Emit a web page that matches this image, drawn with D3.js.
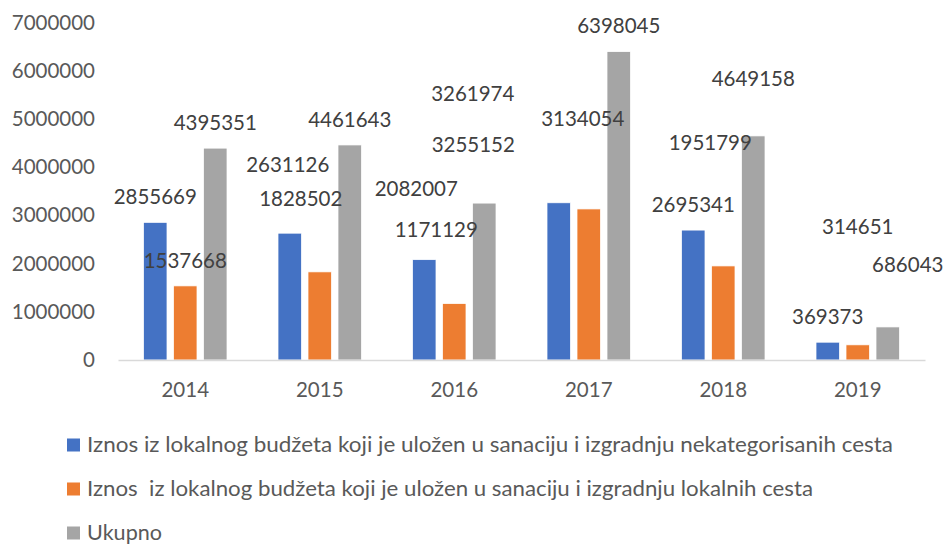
<!DOCTYPE html>
<html>
<head>
<meta charset="utf-8">
<script src="https://cdn.jsdelivr.net/npm/d3@7"></script>
<style>
  html, body { margin: 0; padding: 0; background: #ffffff; }
  svg { display: block; }
  text { font-family: Lato, "Open Sans", sans-serif; }
</style>
</head>
<body>
<svg id="chart" width="946" height="544"></svg>
<script>
// Budget amounts by year
const years = ["2014", "2015", "2016", "2017", "2018", "2019"];
const seriesNames = [
  "Iznos iz lokalnog budžeta koji je uložen u sanaciju i izgradnju nekategorisanih cesta",
  "Iznos  iz lokalnog budžeta koji je uložen u sanaciju i izgradnju lokalnih cesta",
  "Ukupno"
];
const nekategorisane = [2855669, 2631126, 2082007, 3261974, 2695341, 369373];
const lokalne = [1537668, 1828502, 1171129, 3134054, 1951799, 314651];
const ukupno = [4395351, 4461643, 3255152, 6398045, 4649158, 686043];
const yTicks = [0, 1000000, 2000000, 3000000, 4000000, 5000000, 6000000, 7000000];

// Hand-placed data label nudges (px) relative to the default spot above each bar
const labelDx = [
  [0, -2, -8, -86, 0, 0],
  [0, -19, -18, -6, -13, 0],
  [0, 0, -11, 0, 0, 20]
];
const labelDy = [
  [0, -43, -45, -83, 0, 0],
  [0, -48, -48, -65, -98, -93],
  [0, 0, -33, 0, -32, -37]
];

const colors = ["#4472C4", "#ED7D31", "#A5A5A5"];
const values = [nekategorisane, lokalne, ukupno];

const svg = d3.select("#chart");

const x = d3.scaleBand().domain(years).range([118, 925]).padding(0);
const xs = d3.scaleBand().domain([0, 1, 2])
  .range([25.5, x.bandwidth() - 25.5])
  .paddingInner(0.2167).paddingOuter(0);
const y = d3.scaleLinear().domain([0, 7000000]).range([360, 22.6]);

// Y axis tick labels (no axis line, no gridlines)
const yAxis = d3.axisLeft(y).tickValues(yTicks).tickSize(0).tickPadding(0)
  .tickFormat(d3.format("d"));
const gy = svg.append("g").attr("transform", "translate(95,0)").call(yAxis);
gy.select(".domain").remove();
gy.selectAll("text")
  .attr("fill", "#595959")
  .style("font-size", "20.5px")
  .style("font-family", "Lato, sans-serif");

// Bars
values.forEach((vals, s) => {
  svg.append("g").selectAll("rect")
    .data(vals)
    .join("rect")
    .attr("x", (d, i) => x(years[i]) + xs(s))
    .attr("width", xs.bandwidth())
    .attr("y", d => y(d))
    .attr("height", d => y(0) - y(d))
    .attr("fill", colors[s])
    .attr("stroke", "#ffffff")
    .attr("stroke-width", 0.75);
});

// X axis line and category labels
const xAxis = d3.axisBottom(x).tickSize(0).tickPadding(0);
const gx = svg.append("g").attr("transform", "translate(0,360)").call(xAxis);
gx.select(".domain").attr("stroke", "#D9D9D9").attr("stroke-width", 1.5);
gx.selectAll("text")
  .attr("y", 30)
  .attr("dy", "0.35em")
  .attr("fill", "#595959")
  .style("font-size", "20.5px")
  .style("font-family", "Lato, sans-serif");

// Data labels
values.forEach((vals, s) => {
  svg.append("g").selectAll("text")
    .data(vals)
    .join("text")
    .attr("x", (d, i) => x(years[i]) + xs(s) + xs.bandwidth() / 2 + labelDx[s][i])
    .attr("y", (d, i) => y(d) - 25.5 + labelDy[s][i])
    .attr("dy", "0.35em")
    .attr("text-anchor", "middle")
    .attr("fill", "#404040")
    .style("font-size", "20.5px")
    .text(d => d);
});

// Legend
const legendWidths = [806, 726, 75];
const legendRows = [445, 489, 533];
const legend = svg.append("g");
seriesNames.forEach((name, s) => {
  const ly = legendRows[s];
  legend.append("rect")
    .attr("x", 67).attr("y", ly - 6.5)
    .attr("width", 13).attr("height", 13)
    .attr("fill", colors[s]);
  legend.append("text")
    .attr("x", 87).attr("y", ly)
    .attr("dy", "0.35em")
    .attr("fill", "#595959")
    .attr("xml:space", "preserve")
    .style("white-space", "pre")
    .style("font-size", "20.5px")
    .attr("textLength", legendWidths[s])
    .attr("lengthAdjust", "spacingAndGlyphs")
    .text(name);
});
</script>
</body>
</html>
